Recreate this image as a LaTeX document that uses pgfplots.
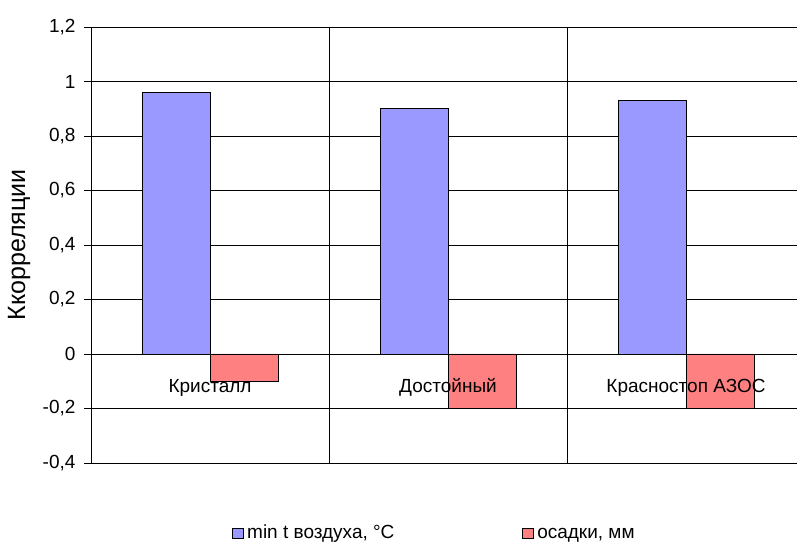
\documentclass[border=0pt]{standalone}
\usepackage{pgfplots}
\pgfplotsset{compat=1.18}
\usepackage{fontspec}
\setmainfont{Liberation Sans}
\definecolor{cblue}{HTML}{9999FF}
\definecolor{cred}{HTML}{FF8080}
\begin{document}
\begin{tikzpicture}[font=\fontsize{19bp}{22bp}\selectfont]
\begin{axis}[
  set layers=standard,
  at={(91bp,79bp)}, anchor=south west,
  scale only axis, width=714bp, height=436bp,
  xmin=-0.5, xmax=2.5, ymin=-0.4, ymax=1.2,
  ybar=0pt, bar width=68bp,
  xtick={0,1,2},
  xticklabels={Кристалл,Достойный,Красностоп АЗОС},
  xtick style={draw=none},
  x tick label style={anchor=base, yshift=77bp, /pgfplots/on layer=axis foreground},
  y tick label style={xshift=-5bp},
  extra x ticks={0.5,1.5}, extra x tick labels={},
  extra x tick style={grid=major, major tick length=0pt},
  ytick={-0.4,-0.2,0,0.2,0.4,0.6,0.8,1,1.2},
  ymajorgrids,
  grid style={black, line width=0.8bp},
  ytick pos=left, tick align=outside, major tick length=7bp,
  ytick style={black, line width=0.8bp},
  /pgf/number format/.cd, use comma, 1000 sep={}, assume math mode=true,
  /pgfplots/.cd,
  x axis line style={draw=gray, line width=1bp},
  y axis line style={draw=black, line width=0.8bp},
  ylabel={Ккорреляции},
  ylabel style={at={(axis description cs:-0.1008,0.5)}, anchor=center, font=\fontsize{25bp}{28bp}\selectfont},
  legend columns=2,
  legend style={draw=none, fill=none, at={(axis description cs:0.4818,-0.1606)}, anchor=center,
    nodes={inner sep=3bp, anchor=west, text height=14bp, text depth=4bp},
    /tikz/every even column/.append style={column sep=125bp}},
  legend image code/.code={\draw[#1, draw=black, line width=0.8bp] (0bp,-5bp) rectangle (11bp,5bp);},
]
\addplot[fill=cblue, draw=black, line width=0.8bp] coordinates {(0,0.96) (1,0.90) (2,0.93)};
\addplot[fill=cred, draw=black, line width=0.8bp] coordinates {(0,-0.1) (1,-0.2) (2,-0.2)};
\legend{{min t воздуха, °C}, {осадки, мм}}
\end{axis}
\pgfresetboundingbox
\path[use as bounding box] (0,0) rectangle (797bp,542bp);
\end{tikzpicture}
\end{document}
